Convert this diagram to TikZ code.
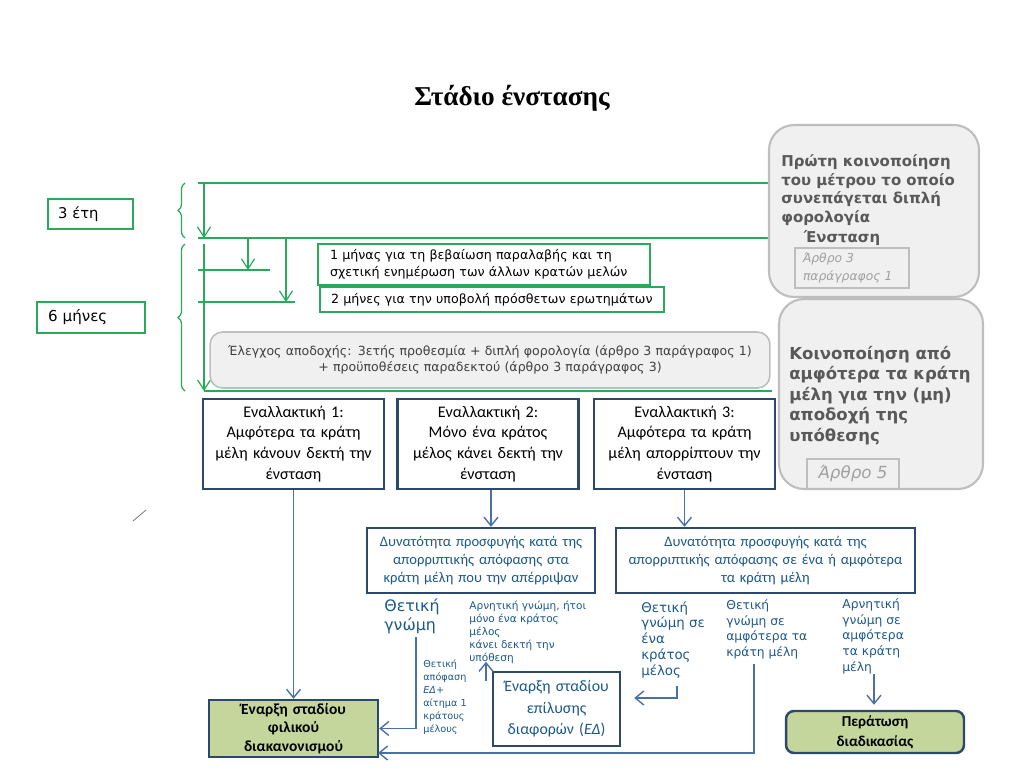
\documentclass[tikz,border=0pt]{standalone}
\usepackage{fontspec}
\setmainfont{DejaVu Sans}
\newfontfamily\tmsfont{Liberation Serif}
\newfontfamily\calfont{Carlito}
\usetikzlibrary{arrows.meta}
\usetikzlibrary{decorations.pathreplacing}
\definecolor{grn}{RGB}{40,170,90}
\definecolor{navy}{RGB}{44,72,107}
\definecolor{arrblue}{RGB}{75,112,168}
\definecolor{txtblue}{RGB}{28,88,138}
\definecolor{olive}{RGB}{196,214,155}
\definecolor{lgray}{RGB}{240,240,240}
\definecolor{mgray}{RGB}{190,190,190}
\definecolor{dgray}{RGB}{89,89,89}
\definecolor{ckgray}{RGB}{64,64,64}
\definecolor{artgray}{RGB}{160,160,160}
\newcommand{\fs}[2]{\fontsize{#1}{#2}\selectfont}

\begin{document}
\begin{tikzpicture}[x=0.02cm,y=-0.02cm,
  grnline/.style={draw=grn,line width=0.7pt},
  grnarrow/.style={grnline,-{Straight Barb[length=0.2cm,width=0.26cm]}},
  grnbox/.style={draw=grn,line width=0.7pt,fill=white,inner ysep=0pt,align=left},
  graybox/.style={draw=mgray,fill=lgray,line width=1.2pt,rounded corners=0.5cm},
  altbox/.style={draw=navy,fill=white,line width=1.4pt,minimum width=3.62cm,minimum height=1.8cm,text width=3.4cm,align=center,inner sep=0pt,font=\calfont\fs{9.2}{11.9}},
  dynbox/.style={draw=navy,fill=white,line width=1.4pt,minimum height=1.3cm,align=center,inner sep=0pt,text=txtblue,font=\calfont\fs{8.3}{10.2}},
  endbox/.style={draw=navy,fill=olive,line width=1.4pt,align=center,inner sep=0pt,font=\calfont\bfseries\fs{8.8}{10.5}},
  lab/.style={anchor=north west,align=left,inner sep=0pt,text=txtblue},
  bluearrow/.style={draw=arrblue,line width=0.8pt,-{Straight Barb[length=0.17cm,width=0.28cm]}}]
\useasboundingbox (0,0) rectangle (1024,768);

\node[font=\tmsfont\bfseries\fs{15.5}{18}] (title) at (512,98) {Στάδιο ένστασης};

% time lines
\draw[grnline] (198,183) -- (776,183);
\draw[grnline] (198,238) -- (776,238);
\draw[grnline] (198,270) -- (270,270);
\draw[grnline] (198,302) -- (295,302);
\draw[grnline] (204,391) -- (772,391);
\draw[grnarrow] (204,183) -- (204,238);
\draw[grnarrow] (204,244) -- (204,391);
\draw[grnarrow] (248,238) -- (248,270);
\draw[grnarrow] (286,238) -- (286,302);
\draw[grnline,decorate,decoration={brace,amplitude=4pt}] (185,238) -- (185,183);
\draw[grnline,decorate,decoration={brace,amplitude=4pt}] (185,391) -- (185,244);

\node[grnbox,minimum width=1.7cm,minimum height=0.6cm,text width=1.3cm,inner xsep=0.2cm,font=\fs{8.4}{10}] (yrs) at (90.5,214) {3 έτη};
\node[grnbox,minimum width=2.16cm,minimum height=0.62cm,text width=1.72cm,inner xsep=0.22cm,font=\fs{8.6}{10}] (mon) at (91,317.5) {6 μήνες};
\node[grnbox,minimum width=6.64cm,minimum height=0.82cm,text width=6.16cm,inner xsep=0.24cm,font=\fs{7.2}{9.4}] (m1) at (484,264.5) {1 μήνας για τη βεβαίωση παραλαβής και τη\\σχετική ενημέρωση των άλλων κρατών μελών};
\node[grnbox,minimum width=6.88cm,minimum height=0.5cm,text width=6.44cm,inner xsep=0.22cm,font=\fs{7.2}{9.4}] (m2) at (492,299.5) {2 μήνες για την υποβολή πρόσθετων ερωτημάτων};

\node[graybox,line width=0.9pt,rounded corners=0.25cm,minimum width=11.2cm,minimum height=1.12cm,text width=10.9cm,align=center,inner sep=0pt,text=ckgray,font=\fs{7.15}{9}] (check) at (490,360) {Έλεγχος αποδοχής: 3ετής προθεσμία + διπλή φορολογία (άρθρο 3 παράγραφος 1)\\+ προϋποθέσεις παραδεκτού (άρθρο 3 παράγραφος 3)};

% right column
\node[graybox,minimum width=4.2cm,minimum height=3.44cm] (notif) at (874,211) {};
\node[anchor=north west,align=left,inner sep=0pt,text=dgray,font=\bfseries\fs{8.5}{10.7}] (notiftxt) at (781,154) {Πρώτη κοινοποίηση\\του μέτρου το οποίο\\συνεπάγεται διπλή\\φορολογία};
\node[inner sep=0pt,text=dgray,font=\bfseries\fs{8.5}{10.7}] (obj) at (842,238) {Ένσταση};
\node[draw=mgray,line width=0.8pt,minimum width=2.28cm,minimum height=0.8cm,text width=1.96cm,inner xsep=0.16cm,inner ysep=0pt,align=left,text=artgray,font=\itshape\fs{7}{10}] (art3) at (852,268) {Άρθρο 3\\παράγραφος 1};
\node[graybox,minimum width=4.08cm,minimum height=3.8cm] (both) at (881,394) {};
\node[anchor=north west,align=left,inner sep=0pt,text=dgray,font=\bfseries\fs{9.4}{11.6}] (bothtxt) at (789,346) {Κοινοποίηση από\\αμφότερα τα κράτη\\μέλη για την (μη)\\αποδοχή της\\υπόθεσης};
\node[draw=mgray,line width=0.8pt,minimum width=1.84cm,minimum height=0.6cm,inner sep=0pt,text=artgray,font=\itshape\fs{9.5}{11}] (art5) at (853,474) {Άρθρο 5};

% alternatives
\node[altbox] (alt1) at (293.5,444) {Εναλλακτική 1:\\Αμφότερα τα κράτη\\μέλη κάνουν δεκτή την\\ένσταση};
\node[altbox] (alt2) at (488,444) {Εναλλακτική 2:\\Μόνο ένα κράτος\\μέλος κάνει δεκτή την\\ένσταση};
\node[altbox] (alt3) at (684.5,444) {Εναλλακτική 3:\\Αμφότερα τα κράτη\\μέλη απορρίπτουν την\\ένσταση};

\draw[draw=gray,line width=0.5pt] (133,521) -- (146,510);

\node[dynbox,minimum width=4.56cm,text width=4.4cm] (dyn1) at (481,560.5) {Δυνατότητα προσφυγής κατά της\\απορριπτικής απόφασης στα\\κράτη μέλη που την απέρριψαν};
\node[dynbox,minimum width=5.98cm,text width=5.8cm] (dyn2) at (765.5,560.5) {Δυνατότητα προσφυγής κατά της\\απορριπτικής απόφασης σε ένα ή αμφότερα\\τα κράτη μέλη};

\node[endbox,minimum width=3.38cm,minimum height=1.14cm,text width=3.2cm] (fil) at (293.5,728.5) {Έναρξη σταδίου\\φιλικού\\διακανονισμού};
\node[endbox,rounded corners=0.16cm,minimum width=3.56cm,minimum height=0.84cm,text width=3.4cm,font=\calfont\bfseries\fs{8.6}{11.3}] (per) at (875,732) {Περάτωση\\διαδικασίας};
\node[dynbox,minimum width=2.54cm,minimum height=1.48cm,text width=2.4cm,font=\calfont\fs{9}{12.2}] (ed) at (556.5,709) {Έναρξη σταδίου\\επίλυσης\\διαφορών ({\itshape ΕΔ})};

\node[lab,font=\fs{9}{11.3}] (l1) at (384,598) {Θετική\\γνώμη};
\node[lab,font=\fs{6}{7.4}] (l2) at (469,601) {Αρνητική γνώμη, ήτοι\\μόνο ένα κράτος\\μέλος\\κάνει δεκτή την\\υπόθεση};
\node[lab,font=\fs{5.5}{7.4}] (l3) at (423,659) {Θετική\\απόφαση\\{\itshape ΕΔ}+\\αίτημα 1\\κράτους\\μέλους};
\node[lab,font=\fs{7.6}{9}] (l4) at (641,601) {Θετική\\γνώμη σε\\ένα\\κράτος\\μέλος};
\node[lab,font=\fs{7}{9}] (l5) at (726,599) {Θετική\\γνώμη σε\\αμφότερα τα\\κράτη μέλη};
\node[lab,font=\fs{7}{9}] (l6) at (842,598) {Αρνητική\\γνώμη σε\\αμφότερα\\τα κράτη\\μέλη};

\coordinate (c1) at (416,637);
\coordinate (c2) at (754,664);
\coordinate (c3) at (677,686);
\coordinate (c4) at (874,674);
\coordinate (c5) at (486,681);
\coordinate (f2) at (378,753);

\draw[bluearrow] (alt1.south) -- (fil.north);
\draw[bluearrow] ([xshift=0.06cm]alt2.south) -- ([xshift=0.06cm]alt2.south |- dyn1.north);
\draw[bluearrow] (alt3.south) -- (alt3.south |- dyn2.north);
\draw[bluearrow] (c1) |- (fil.east);
\draw[bluearrow] (c2) |- (f2);
\draw[bluearrow] (c3) |- ([xshift=0.26cm,yshift=0.22cm]ed.east);
\draw[bluearrow] (c4) -- ([yshift=0.1cm]c4 |- per.north);
\draw[bluearrow] (c5) -- ([yshift=0.18cm]c5 |- ed.north);
\end{tikzpicture}
\end{document}
